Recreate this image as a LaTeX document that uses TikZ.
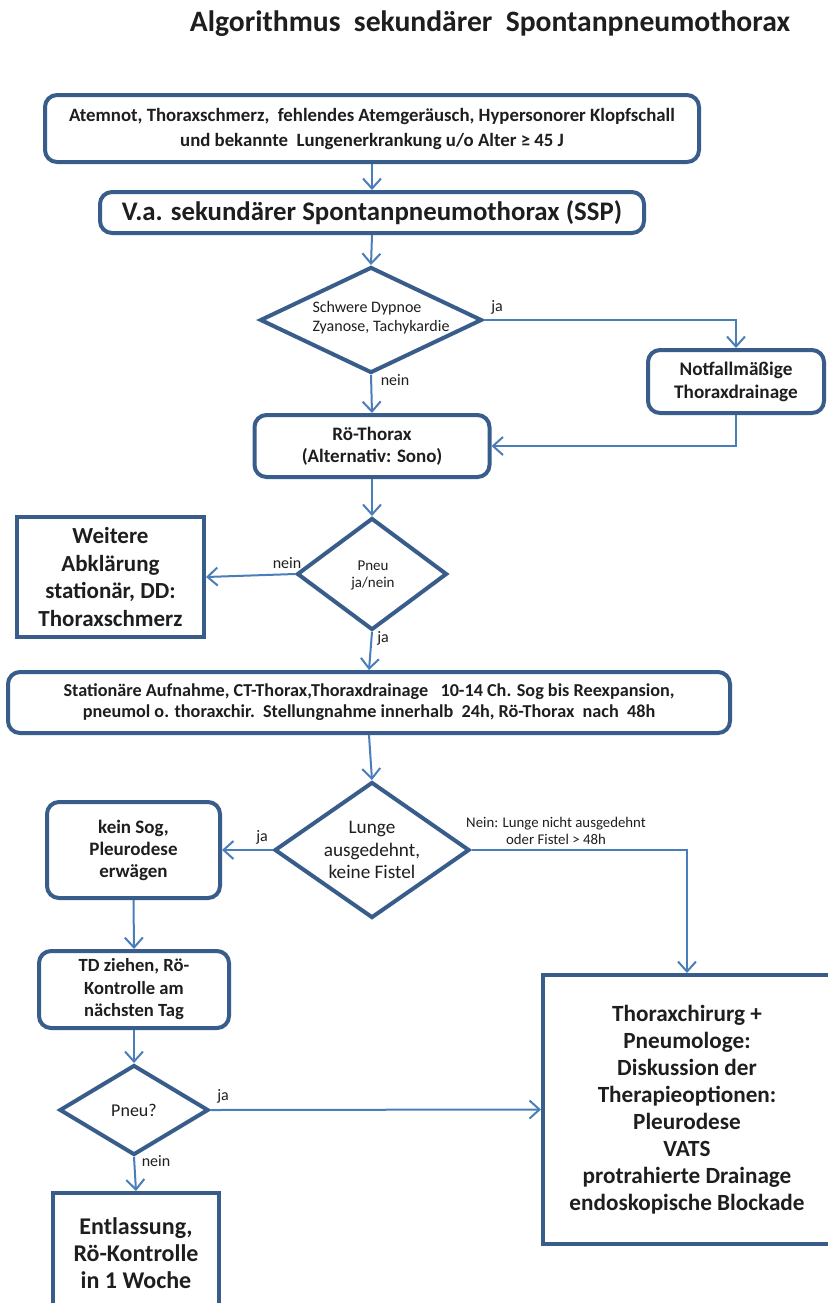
\documentclass[tikz,border=0pt]{standalone}
\usepackage{fontspec}
\setmainfont{Carlito}
\usetikzlibrary{arrows.meta,shapes.geometric}
\definecolor{boxline}{HTML}{385D8A}
\definecolor{conn}{HTML}{4A7EBB}
\definecolor{txt}{HTML}{1E1E1E}
\begin{document}
\begin{tikzpicture}[x=0.5pt,y=-0.5pt,
  box/.style={draw=boxline,line width=2pt,rounded corners=6pt,fill=white,inner sep=0pt,align=center,text=txt},
  sqbox/.style={box,rounded corners=0pt},
  dia/.style={draw=boxline,line width=2pt,diamond,inner sep=0pt,fill=white},
  dtext/.style={align=center,text=txt,inner sep=0pt,font=\fontsize{7}{9.5}\selectfont},
  lbl/.style={text=txt,inner sep=0pt,font=\fontsize{8}{9}\selectfont},
  arr/.style={draw=conn,line width=1pt,-{Straight Barb[length=5pt,width=9pt]}},
  ln/.style={draw=conn,line width=1pt}
]
\useasboundingbox[fill=white] (0,0) rectangle (827,1303);

\node[text=txt,font=\bfseries\fontsize{14.8}{16}\selectfont] (title) at (490,24) {Algorithmus\ \ sekundärer\ \ Spontanpneumothorax};

\node[box,minimum width=327pt,minimum height=33.5pt,font=\bfseries\fontsize{9.4}{12.5}\selectfont] (b1) at (372,128.5)
  {Atemnot, Thoraxschmerz,\ \ fehlendes Atemgeräusch, Hypersonorer Klopfschall\\und bekannte\ \ Lungenerkrankung u/o Alter ≥ 45 J};

\node[box,minimum width=272pt,minimum height=20.5pt,font=\bfseries\fontsize{13.4}{15}\selectfont] (ssp) at (372,212.5)
  {V.a. sekundärer Spontanpneumothorax (SSP)};

\node[dia,minimum width=111pt,minimum height=53pt] (d1) at (371,320) {};
\node[dtext,align=left,font=\fontsize{8}{9.5}\selectfont] (d1t) at (381,317.5) {Schwere Dypnoe\\Zyanose, Tachykardie};

\node[box,minimum width=88pt,minimum height=31.5pt,font=\bfseries\fontsize{9.6}{11.5}\selectfont] (nf) at (736,381.5)
  {Notfallmäßige\\Thoraxdrainage};

\node[box,minimum width=117.5pt,minimum height=31pt,font=\bfseries\fontsize{9.5}{11}\selectfont] (ro) at (372,446)
  {Rö-Thorax\\(Alternativ: Sono)};

\node[dia,minimum width=75pt,minimum height=56pt] (d2) at (372,574) {};
\node[dtext,font=\fontsize{7.5}{8.5}\selectfont] (d2t) at (373,575) {Pneu\\ja/nein};

\node[sqbox,minimum width=93.5pt,minimum height=60pt,font=\bfseries\fontsize{11.5}{13.75}\selectfont] (wa) at (110.5,577)
  {Weitere\\Abklärung\\stationär, DD:\\Thoraxschmerz};

\node[box,minimum width=361pt,minimum height=30.5pt,font=\bfseries\fontsize{9.1}{10.5}\selectfont] (st) at (369,702.5)
  {Stationäre Aufnahme, CT-Thorax,Thoraxdrainage\ \ \ 10-14 Ch. Sog bis Reexpansion,\\pneumol o. thoraxchir.\ \ Stellungnahme innerhalb\ \ 24h, Rö-Thorax\ \ nach\ \ 48h};

\node[dia,minimum width=97.5pt,minimum height=68pt] (d3) at (372,850) {};
\node[dtext,font=\fontsize{9.6}{11.25}\selectfont] (d3t) at (372,850) {Lunge\\ausgedehnt,\\keine Fistel};

\node[box,minimum width=86.5pt,minimum height=48pt,font=\bfseries\fontsize{9.5}{11}\selectfont] (ks) at (133.5,850)
  {kein Sog,\\Pleurodese\\erwägen};

\node[box,minimum width=95pt,minimum height=38.5pt,font=\bfseries\fontsize{9.3}{11.25}\selectfont] (td) at (134,989.5)
  {TD ziehen, Rö-\\Kontrolle am\\nächsten Tag};

\node[dia,minimum width=74.5pt,minimum height=45pt] (d4) at (134,1110) {};
\node[dtext,font=\fontsize{9}{10}\selectfont] (d4t) at (134,1110) {Pneu?};

\node[sqbox,minimum width=83pt,minimum height=60pt,font=\bfseries\fontsize{12}{13.5}\selectfont] (en) at (136,1253)
  {Entlassung,\\Rö-Kontrolle\\in 1 Woche};

\node[sqbox,minimum width=144pt,minimum height=134.5pt,font=\bfseries\fontsize{11.6}{13.5}\selectfont] (tc) at (687,1109.5)
  {Thoraxchirurg +\\Pneumologe:\\Diskussion der\\Therapieoptionen:\\Pleurodese\\VATS\\protrahierte Drainage\\endoskopische Blockade};

% connectors
\draw[arr] (b1.south) -- (ssp.north);
\draw[arr] (ssp.south) -- (d1.north);
\draw[arr] (d1.east) -| (nf.north);
\node[lbl] (l1) at (497,307) {ja};
\draw[arr] (d1.south) -- (ro.north);
\node[lbl] (l2) at (395,380) {nein};
\draw[arr] (nf.south) |- (ro.east);
\draw[arr] (ro.south) -- (d2.north);
\draw[arr] (d2.west) -- (wa.east);
\node[lbl] (l3) at (287,563) {nein};
\draw[arr] (d2.south) -- (st.north);
\node[lbl] (l4) at (383,638) {ja};
\draw[arr] (st.south) -- (d3.north);
\draw[arr] (d3.west) -- (ks.east);
\node[lbl] (l5) at (262,837) {ja};
\draw[arr] (d3.east) -| (tc.north);
\node[text=txt,inner sep=0pt,align=center,font=\fontsize{7.4}{8.5}\selectfont] (l6) at (556,831)
  {Nein: Lunge nicht ausgedehnt\\oder Fistel > 48h};
\draw[arr] (ks.south) -- (td.north);
\draw[arr] (td.south) -- (d4.north);
\draw[arr] (d4.east) -- (tc.west);
\node[lbl] (l7) at (223,1096) {ja};
\draw[arr] (d4.south) -- (en.north);
\node[lbl] (l8) at (156,1161) {nein};
\end{tikzpicture}
\end{document}
